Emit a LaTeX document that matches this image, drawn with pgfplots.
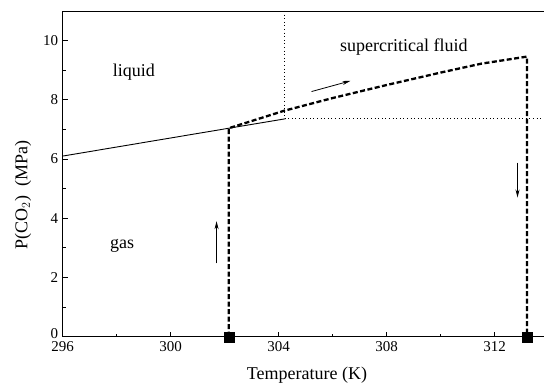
\documentclass[border=0pt]{standalone}
\usepackage{fontspec}
\setmainfont{Liberation Serif}
\usepackage{pgfplots}
\pgfplotsset{compat=1.18}
\usetikzlibrary{arrows.meta}
\begin{document}
\begin{tikzpicture}
\begin{axis}[
  scale only axis,
  width=481pt, height=325.7pt,
  xmin=296, xmax=313.82, ymin=0, ymax=11,
  axis lines*=left,
  axis line style={line width=0.9pt},
  xtick={296,300,304,308,312},
  ytick={2,4,6,8,10},
  extra y ticks={0},
  extra y tick style={yticklabel style={yshift=3.5pt}},
  minor xtick={298,302,306,310},
  minor ytick={1,3,5,7,9},
  tick align=inside,
  major tick length=5pt, minor tick length=3pt,
  tick style={line width=0.8pt, black},
  /pgf/number format/assume math mode=true,
  /pgf/number format/1000 sep={},
  ticklabel style={font=\fontsize{15}{15}\selectfont},
  xticklabel style={yshift=-1.5pt},
  yticklabel style={xshift=-1pt},
  xlabel={Temperature (K)},
  ylabel={P(CO$_2$)\ \ (MPa)},
  xlabel style={at={(axis description cs:0.508,-0.118)}, anchor=center, font=\fontsize{18}{18}\selectfont},
  ylabel style={at={(axis description cs:-0.0825,0.435)}, anchor=center, rotate=0, font=\fontsize{18}{18}\selectfont},
  clip=false,
]
% top frame line
\draw[line width=0.9pt] (rel axis cs:0,1) -- (rel axis cs:1,1);
% liquid-gas coexistence line
\addplot[black, line width=0.9pt] coordinates {(296,6.1) (302.15,7.04) (304.25,7.36)};
% dotted critical lines
\addplot[black, line width=0.8pt, dash pattern=on 1pt off 2.6pt] coordinates {(304.22,11) (304.22,7.38)};
\addplot[black, line width=0.8pt, dash pattern=on 1pt off 2.6pt] coordinates {(304.22,7.38) (313.82,7.38)};
% process path
\addplot[black, line width=2.3pt, dash pattern=on 5pt off 2.5pt] coordinates {
  (302.15,0) (302.15,7.04) (304.2,7.63) (306,8.06) (308,8.5) (310,8.92) (311.5,9.22) (313.2,9.46) (313.2,0)};
% squares
\addplot[only marks, mark=square*, mark size=5pt, black] coordinates {(302.15,0) (313.2,0)};
% arrows
\addplot[black, line width=0.8pt, -{Stealth[length=8pt,width=4pt]}] coordinates {(301.7,2.48) (301.7,3.9)};
\addplot[black, line width=0.8pt, -{Stealth[length=8pt,width=4pt]}] coordinates {(305.22,8.28) (306.66,8.64)};
\addplot[black, line width=0.8pt, -{Stealth[length=8pt,width=4pt]}] coordinates {(312.85,5.88) (312.85,4.7)};
% region labels
\node[font=\fontsize{18}{18}\selectfont] at (axis cs:298.64,8.92) {liquid};
\node[font=\fontsize{18}{18}\selectfont] at (axis cs:308.64,9.79) {supercritical fluid};
\node[font=\fontsize{18}{18}\selectfont] at (axis cs:298.2,3.08) {gas};
\end{axis}
\pgfresetboundingbox
\useasboundingbox (-62.7pt,-52.3pt) rectangle (481.3pt,336.7pt);
\end{tikzpicture}
\end{document}
